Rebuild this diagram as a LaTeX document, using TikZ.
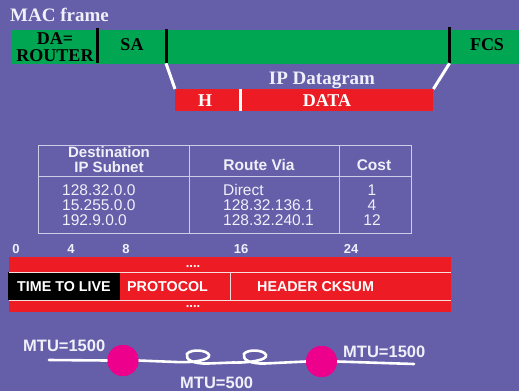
\documentclass[tikz,border=0pt]{standalone}
\usepackage{fontspec}
\setmainfont{Liberation Serif}
\setsansfont{Liberation Sans}
\definecolor{bg}{RGB}{100,95,168}
\definecolor{macgreen}{RGB}{0,166,81}
\definecolor{ipred}{RGB}{237,28,36}
\definecolor{routerpink}{RGB}{236,0,140}
\definecolor{paper}{RGB}{240,240,250}
\definecolor{rulecol}{RGB}{205,205,232}
\begin{document}
\begin{tikzpicture}[x=1pt,y=-1pt,
  serifbig/.style={font=\fontsize{19}{19}\selectfont\bfseries, inner sep=0pt},
  seriffield/.style={font=\fontsize{18}{17}\selectfont\bfseries, inner sep=0pt, text=black},
  tabhead/.style={font=\sffamily\bfseries\fontsize{15.5}{12.5}\selectfont, inner sep=0pt, text=paper},
  tabcell/.style={font=\sffamily\fontsize{15.5}{15}\selectfont, inner sep=0pt, text=paper},
  bitnum/.style={font=\sffamily\bfseries\fontsize{13}{13}\selectfont, inner sep=0pt, text=paper, anchor=base},
  fieldtxt/.style={font=\sffamily\bfseries\fontsize{14.3}{14}\selectfont, inner sep=0pt, text=white, anchor=base west},
  mtutxt/.style={font=\sffamily\bfseries\fontsize{16.5}{16}\selectfont, inner sep=0pt, text=paper, anchor=base west},
  divider/.style={line width=3pt, black},
  link/.style={line width=3pt, white},
  wire/.style={line width=2.6pt, white, line cap=round},
  router/.style={circle, fill=routerpink, minimum size=31pt, inner sep=0pt},
  gridline/.style={rulecol, line width=0.9pt},
  bitrule/.style={white!85!ipred, line width=1pt}]

% background
\fill[bg] (0,0) rectangle (519,391);
\useasboundingbox (0,0) rectangle (519,391);

% ---------- MAC frame ----------
\node[serifbig, text=paper, anchor=base west] (title) at (10,21) {MAC frame};
\node[fill=macgreen, minimum width=508pt, minimum height=34pt, inner sep=0pt, anchor=north west] (mac) at (11,29.3) {};
\draw[divider] (97,28) -- (97,63.3);
\draw[divider] (166,29.3) -- (166,63.3);
\draw[divider] (449.5,27) -- (449.5,63.3);
\node[seriffield, align=center] (da) at (55,47) {DA=\\ROUTER};
\node[seriffield] (sa) at (132,45) {SA};
\node[seriffield] (fcs) at (487,45) {FCS};

% ---------- IP datagram ----------
\node[fill=ipred, minimum width=258pt, minimum height=22pt, inner sep=0pt, anchor=north west] (ip) at (175,89) {};
\draw[white, line width=3pt] (240,89) -- (240,111);
\node[serifbig, text=paper, anchor=base] (iplabel) at (322,84) {IP Datagram};
\node[seriffield, text=white, anchor=base] (hdr) at (205,106) {H};
\node[seriffield, text=white, anchor=base] (data) at (327,106) {DATA};
\coordinate (saEnd) at (166,63.3);
\coordinate (fcsEnd) at (449.5,63.3);
\draw[link] (saEnd) -- (ip.north west);
\draw[link] (fcsEnd) -- (ip.north east);

% ---------- routing table ----------
\draw[gridline] (38,145) rectangle (411,233);
\draw[gridline] (38,176) -- (411,176);
\draw[gridline] (189,145) -- (189,233);
\draw[gridline] (339,145) -- (339,233);
\node[tabhead, anchor=base, font=\sffamily\bfseries\fontsize{15}{14}\selectfont] (h1a) at (109,157.5) {Destination};
\node[tabhead, anchor=base, font=\sffamily\bfseries\fontsize{15}{14}\selectfont] (h1b) at (109,172) {IP Subnet};
\node[tabhead, anchor=base] (h2) at (259,170) {Route Via};
\node[tabhead, anchor=base] (h3) at (374,170) {Cost};
\node[tabcell, anchor=base west] (c11) at (62,195) {128.32.0.0};
\node[tabcell, anchor=base west] (c21) at (62,210.5) {15.255.0.0};
\node[tabcell, anchor=base west] (c31) at (62,225.8) {192.9.0.0};
\node[tabcell, anchor=base west] (c12) at (223,195) {Direct};
\node[tabcell, anchor=base west] (c22) at (223,210.5) {128.32.136.1};
\node[tabcell, anchor=base west] (c32) at (223,225.8) {128.32.240.1};
\node[tabcell, anchor=base] (c13) at (372,195) {1};
\node[tabcell, anchor=base] (c23) at (372,210.5) {4};
\node[tabcell, anchor=base] (c33) at (372,225.8) {12};

% ---------- IP header fields ----------
\node[bitnum] (b0) at (16,253) {0};
\node[bitnum] (b4) at (71,253) {4};
\node[bitnum] (b8) at (126,253) {8};
\node[bitnum] (b16) at (241,253) {16};
\node[bitnum] (b24) at (351,253) {24};
\fill[ipred] (9,257) rectangle (451,312);
\fill[black] (8,272) rectangle (120,300);
\draw[bitrule] (9,272) -- (451,272);
\draw[bitrule] (9,300) -- (451,300);
\draw[bitrule] (230,272) -- (230,300);
\node[fieldtxt] (ttl) at (17,291) {TIME TO LIVE};
\node[fieldtxt] (proto) at (127,291) {PROTOCOL};
\node[fieldtxt] (cksum) at (257,291) {HEADER CKSUM};
\node[fieldtxt, anchor=base, font=\sffamily\bfseries\fontsize{13}{13}\selectfont] (dotsA) at (193,267) {....};
\node[fieldtxt, anchor=base, font=\sffamily\bfseries\fontsize{13}{13}\selectfont] (dotsB) at (193,307.5) {....};

% ---------- MTU path ----------
\coordinate (lanL) at (49,360);
\coordinate (lanR) at (414,364);
\node[router] (r1) at (123,360.5) {};
\node[router] (r2) at (321.5,361.5) {};
\draw[wire] (lanL) -- (r1.west);
\draw[wire] (r2.east) -- (lanR);
\draw[wire] (r1.east) -- (176,362)
  .. controls (192,363) and (211,360) .. (209,355)
  .. controls (207,349.5) and (190,349) .. (187,354)
  .. controls (185,359.5) and (193,364) .. (208,363.5)
  -- (233,362.5)
  .. controls (249,363) and (268,360) .. (266,355)
  .. controls (264,349.5) and (247,349) .. (244,354)
  .. controls (242,359.5) and (250,364) .. (265,363.5)
  -- (r2.west);
\fill[routerpink] (r1) circle (15.5);
\fill[routerpink] (r2) circle (15.5);
\node[mtutxt] (mtuL) at (23,351.7) {MTU=1500};
\node[mtutxt] (mtuR) at (343,357) {MTU=1500};
\node[mtutxt] (mtuM) at (180,388) {MTU=500};
\end{tikzpicture}
\end{document}
